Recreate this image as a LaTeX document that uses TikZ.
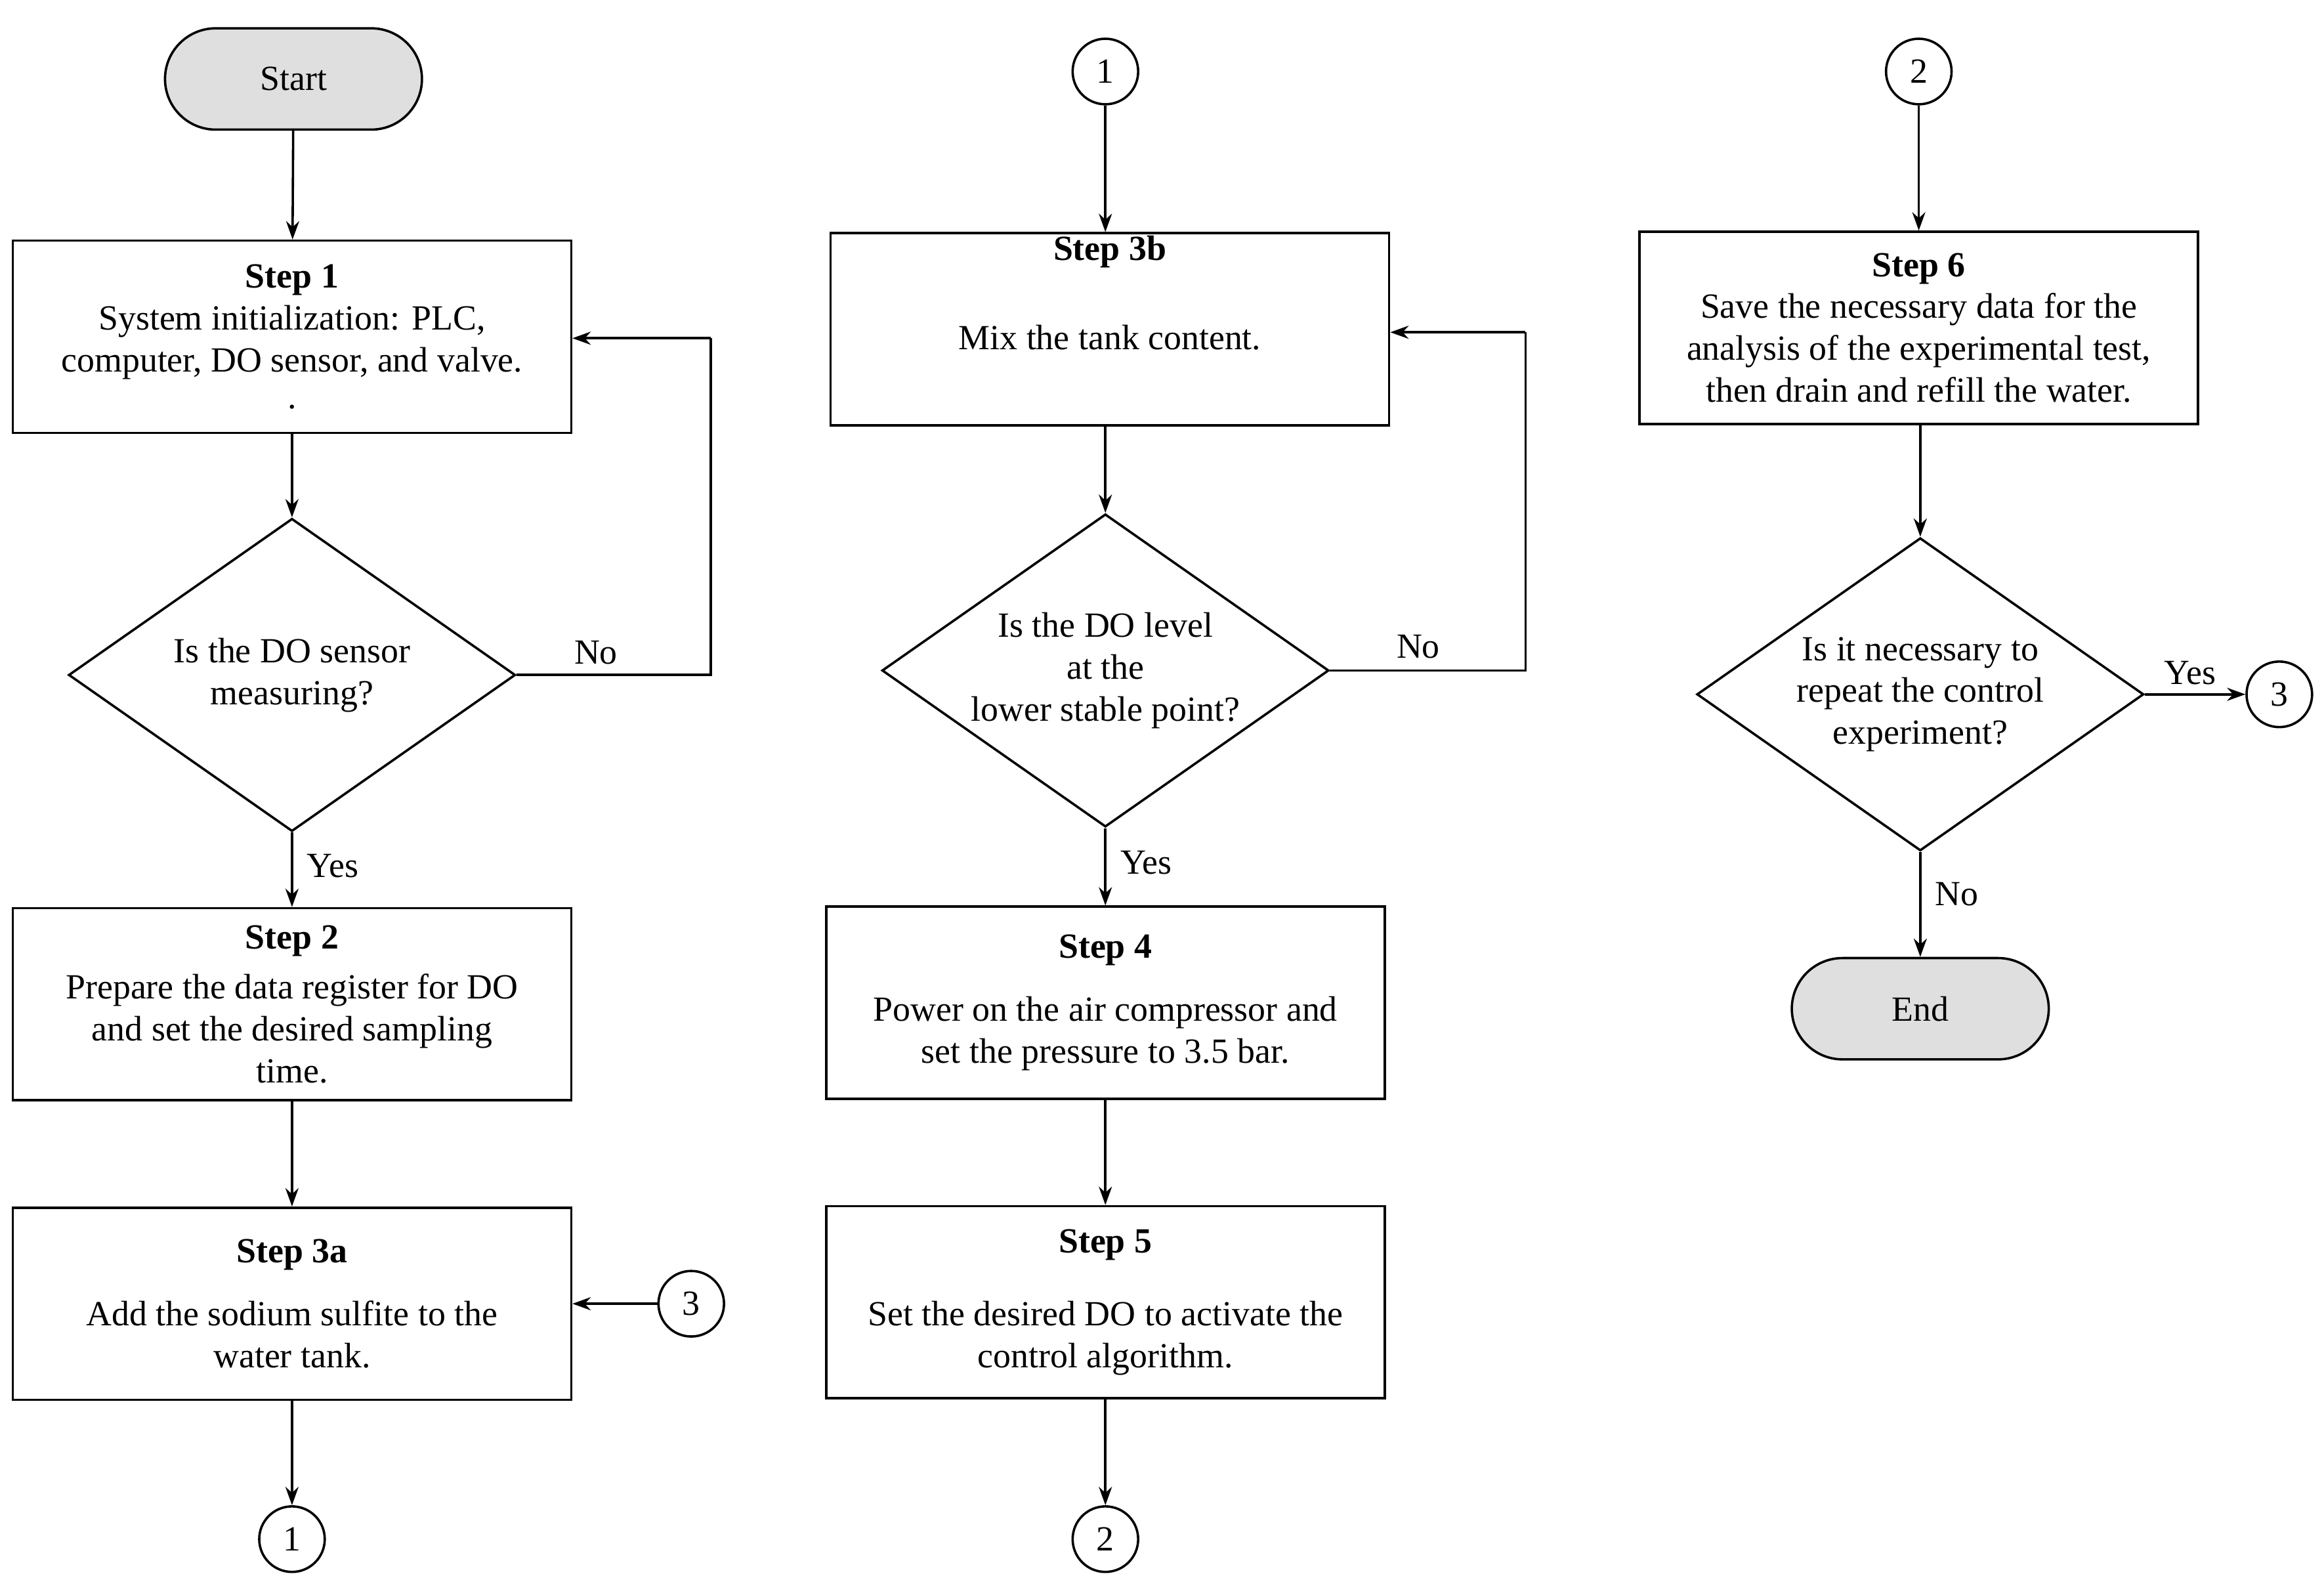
\documentclass[tikz,border=0pt]{standalone}
\usepackage{fontspec}
\setmainfont{Liberation Serif}
\usetikzlibrary{shapes.geometric,arrows.meta}
\begin{document}
\begin{tikzpicture}[x=0.02cm,y=-0.02cm,
  every node/.style={font=\fontsize{13.5}{16}\selectfont},
  box/.style={draw,line width=0.9pt,minimum width=7.5cm,minimum height=2.58cm,align=center,inner sep=0pt},
  term/.style={draw,line width=0.9pt,fill=gray!25,rounded corners=0.68cm,minimum width=3.45cm,minimum height=1.36cm},
  dia/.style={draw,line width=0.9pt,diamond,minimum width=6cm,minimum height=4.2cm,aspect=1.43,inner sep=0pt,align=center},
  conn/.style={draw,line width=0.9pt,circle,minimum size=0.88cm,inner sep=0pt},
  arr/.style={line width=0.9pt,-{Stealth[length=7pt,width=5pt]}},
  ln/.style={line width=0.9pt}]
\useasboundingbox (0,0) rectangle (1560,1060);
% column 1
\node[term] (start) at (197,53) {Start};
\node[box] (s1) at (196,226) {\textbf{Step 1}\\System initialization: PLC,\\computer, DO sensor, and valve.\\[-2pt].};
\node[dia] (d1) at (196,453) {Is the DO sensor\\measuring?};
\node[box] (s2) at (196,674) {\textbf{Step 2}\\[3pt]Prepare the data register for DO\\and set the desired sampling\\time.};
\node[box] (s3a) at (196,875) {\textbf{Step 3a}\\[8pt]Add the sodium sulfite to the\\water tank.};
\node[conn] (c3a) at (464,875) {3};
\node[conn] (c1a) at (196,1033) {1};
\coordinate (n1a) at (477,453);
\coordinate (n1b) at (477,227);
\draw[arr] (start) -- (s1);
\draw[arr] (s1) -- (d1);
\draw[arr] (d1) -- (s2) node[pos=0.45,right,xshift=2pt] {Yes};
\draw[arr] (s2) -- (s3a);
\draw[arr] (s3a) -- (c1a);
\draw[arr] (c3a) -- (s3a);
\draw[ln] (d1.east) -- (n1a) -- (n1b);
\draw[arr] (n1b) -- (s1.east |- n1b);
\node at (400,438) {No};
% column 2
\node[conn] (c1b) at (742,48) {1};
\node[box] (s3b) at (745,221) {\textbf{Step 3b}\\[18pt]Mix the tank content.\\[12pt]};
\node[dia] (d2) at (742,450) {Is the DO level\\at the\\lower stable point?};
\node[box] (s4) at (742,673) {\textbf{Step 4}\\[8pt]Power on the air compressor and\\set the pressure to 3.5 bar.};
\node[box] (s5) at (742,874) {\textbf{Step 5}\\[12pt]Set the desired DO to activate the\\control algorithm.};
\node[conn] (c2a) at (742,1033) {2};
\coordinate (n2a) at (1024,450);
\coordinate (n2b) at (1024,223);
\draw[arr] (c1b) -- (c1b |- s3b.north);
\draw[arr] (s3b.south -| d2) -- (d2);
\draw[arr] (d2) -- (d2 |- s4.north) node[pos=0.45,right,xshift=2pt] {Yes};
\draw[arr] (s4) -- (s5);
\draw[arr] (s5) -- (c2a);
\draw[ln] (d2.east) -- (n2a) -- (n2b);
\draw[arr] (n2b) -- (s3b.east |- n2b);
\node at (952,434) {No};
% column 3
\node[conn] (c2b) at (1288,48) {2};
\node[box] (s6) at (1288,220) {\textbf{Step 6}\\Save the necessary data for the\\analysis of the experimental test,\\then drain and refill the water.};
\node[dia] (d3) at (1289,466) {Is it necessary to\\repeat the control\\experiment?};
\node[conn] (c3b) at (1530,466) {3};
\node[term] (end) at (1289,677) {End};
\draw[arr] (c2b) -- (s6);
\draw[arr] (s6.south -| d3) -- (d3);
\draw[arr] (d3) -- (c3b) node[pos=0.45,above] {Yes};
\draw[arr] (d3) -- (end) node[pos=0.4,right,xshift=2pt] {No};
\end{tikzpicture}
\end{document}
